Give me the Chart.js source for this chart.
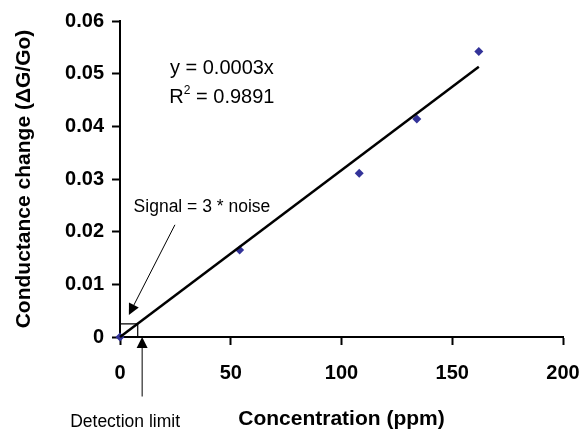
<!DOCTYPE html>
<html>
<head>
<meta charset="utf-8">
<script src="https://cdn.jsdelivr.net/npm/chart.js@4.4.1/dist/chart.umd.min.js"></script>
<style>
    body { margin: 0; background: #fff; }
    canvas { display: block; }
</style>
</head>
<body>
<canvas id="chart" width="584" height="432"></canvas>
<script>
// measured points
const concentration = [0, 54, 108, 134, 162];
const conductance = [0, 0.0165, 0.0311, 0.0414, 0.0542];

// fitted line y = 0.0003x, read at its two ends
const fitX = [0, 162];
const fitY = [0, 0.0513];

// signal = 3 * noise box near the origin
const limitX = [0, 8, 8];
const limitY = [0.0025, 0.0025, 0];

const xTicks = [0, 50, 100, 150, 200];
const yTicks = [0, 0.01, 0.02, 0.03, 0.04, 0.05, 0.06];

const FONT = "'Liberation Sans', Arial, sans-serif";

const toPoints = (xs, ys) => xs.map((x, i) => ({ x: x, y: ys[i] }));

function arrow(ctx, x1, y1, x2, y2, size, width) {
    const ang = Math.atan2(y2 - y1, x2 - x1);
    ctx.save();
    ctx.strokeStyle = '#000';
    ctx.fillStyle = '#000';
    ctx.lineWidth = width;
    ctx.beginPath();
    ctx.moveTo(x1, y1);
    ctx.lineTo(x2 - Math.cos(ang) * size * 0.8, y2 - Math.sin(ang) * size * 0.8);
    ctx.stroke();
    ctx.beginPath();
    ctx.moveTo(x2, y2);
    ctx.lineTo(x2 - size * Math.cos(ang) + size * 0.5 * Math.sin(ang),
               y2 - size * Math.sin(ang) - size * 0.5 * Math.cos(ang));
    ctx.lineTo(x2 - size * Math.cos(ang) - size * 0.5 * Math.sin(ang),
               y2 - size * Math.sin(ang) + size * 0.5 * Math.cos(ang));
    ctx.closePath();
    ctx.fill();
    ctx.restore();
}

const notes = {
    id: 'notes',
    afterDatasetsDraw(chart) {
        const ctx = chart.ctx;
        const xs = chart.scales.x;
        const ys = chart.scales.y;
        const px = v => xs.getPixelForValue(v);
        const py = v => ys.getPixelForValue(v);

        ctx.save();
        ctx.fillStyle = '#000';
        ctx.textBaseline = 'middle';

        // equation
        ctx.font = '20px ' + FONT;
        ctx.textAlign = 'center';
        ctx.fillText('y = 0.0003x', px(46), py(0.0509));

        const cx = px(46), cy = py(0.0455);
        const rW = ctx.measureText('R').width;
        ctx.font = '12px ' + FONT;
        const sW = ctx.measureText('2').width;
        ctx.font = '20px ' + FONT;
        const rest = ' = 0.9891';
        const restW = ctx.measureText(rest).width;
        let left = cx - (rW + sW + restW) / 2;
        ctx.textAlign = 'left';
        ctx.fillText('R', left, cy);
        ctx.font = '12px ' + FONT;
        ctx.fillText('2', left + rW, cy - 7);
        ctx.font = '20px ' + FONT;
        ctx.fillText(rest, left + rW + sW, cy);

        // signal label and its arrow
        ctx.font = '17.5px ' + FONT;
        ctx.textAlign = 'center';
        ctx.fillText('Signal = 3 * noise', px(37), py(0.0247));
        arrow(ctx, px(24.8), py(0.0213), px(4), py(0.0042), 11, 1);

        // detection limit arrow and label
        arrow(ctx, px(10), py(-0.0113), px(10), py(0), 11, 1);
        ctx.font = '17.5px ' + FONT;
        ctx.fillText('Detection limit', px(2.3), py(-0.0161));
        ctx.restore();
    }
};

new Chart(document.getElementById('chart'), {
    type: 'scatter',
    data: {
        datasets: [
            {
                label: 'Fit',
                data: toPoints(fitX, fitY),
                showLine: true,
                borderColor: '#000',
                borderWidth: 2.5,
                pointRadius: 0,
                clip: false
            },
            {
                label: 'Limit',
                data: toPoints(limitX, limitY),
                showLine: true,
                borderColor: '#000',
                borderWidth: 1.2,
                pointRadius: 0,
                clip: false
            },
            {
                label: 'Measured',
                data: toPoints(concentration, conductance),
                pointStyle: 'rectRot',
                pointRadius: 4.5,
                backgroundColor: '#333399',
                borderColor: '#333399',
                borderWidth: 0,
                clip: false
            }
        ]
    },
    options: {
        responsive: false,
        animation: false,
        layout: { padding: { top: 21, right: 21, left: 0, bottom: 0 } },
        plugins: {
            legend: { display: false },
            tooltip: { enabled: false }
        },
        scales: {
            x: {
                type: 'linear',
                min: 0,
                max: 200,
                afterFit: scale => {
                    scale.height = 95;
                    scale.paddingLeft = 0;
                    scale.paddingRight = 0;
                },
                afterBuildTicks: scale => { scale.ticks = xTicks.map(v => ({ value: v })); },
                border: { color: '#000', width: 2 },
                grid: { drawOnChartArea: false, drawTicks: true, tickLength: 8, tickColor: '#000', tickWidth: 2 },
                ticks: {
                    color: '#000',
                    padding: 16,
                    maxRotation: 0,
                    font: { family: FONT, size: 20, weight: 'bold' }
                },
                title: {
                    display: true,
                    text: 'Concentration (ppm)',
                    color: '#000',
                    padding: { top: 0, bottom: 0 },
                    font: { family: FONT, size: 21, weight: 'bold' }
                }
            },
            y: {
                type: 'linear',
                min: 0,
                max: 0.06,
                afterFit: scale => { scale.width = 120; },
                afterBuildTicks: scale => { scale.ticks = yTicks.map(v => ({ value: v })); },
                border: { color: '#000', width: 2 },
                grid: { drawOnChartArea: false, drawTicks: true, tickLength: 8, tickColor: '#000', tickWidth: 2 },
                ticks: {
                    color: '#000',
                    padding: 8,
                    font: { family: FONT, size: 20, weight: 'bold' },
                    callback: v => v === 0 ? '0' : v.toFixed(2)
                },
                title: {
                    display: true,
                    text: 'Conductance change (ΔG/Go)',
                    color: '#000',
                    padding: { top: 12, bottom: 0 },
                    font: { family: FONT, size: 21, weight: 'bold' }
                }
            }
        }
    },
    plugins: [notes]
});
</script>
</body>
</html>
